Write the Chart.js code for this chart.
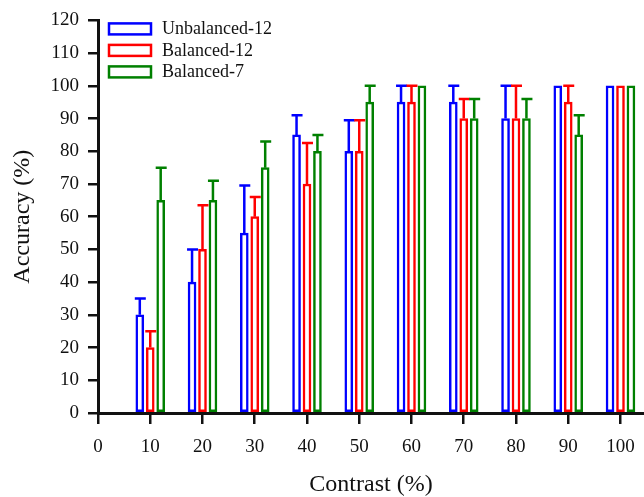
<!DOCTYPE html>
<html>
<head>
<meta charset="utf-8">
<script src="https://cdn.jsdelivr.net/npm/chart.js@4.4.1/dist/chart.umd.min.js"></script>
<style>
  html, body { margin: 0; padding: 0; background: #fff; }
  #wrap { width: 644px; height: 497px; }
</style>
</head>
<body>
<div id="wrap"><canvas id="accChart"></canvas></div>
<script>
// contrast levels (%)
const contrast = [10, 20, 30, 40, 50, 60, 70, 80, 90, 100];
// mean accuracy (%)
const unbalanced12 = [30, 40, 55, 85, 80, 95, 95, 90, 100, 100];
const balanced12   = [20, 50, 60, 70, 80, 95, 90, 90, 95, 100];
const balanced7    = [65, 65, 75, 80, 95, 100, 90, 90, 85, 100];
// upper error (%)
const unbalanced12Err = [5, 10, 14.5, 6, 9.5, 5, 5, 10, 0, 0];
const balanced12Err   = [5, 13.5, 6, 12.5, 9.5, 5, 6, 10, 5, 0];
const balanced7Err    = [10, 6, 8, 5, 5, 0, 6, 6, 6, 0];
const yTicks = [0, 10, 20, 30, 40, 50, 60, 70, 80, 90, 100, 110, 120];

const serif = "'Liberation Serif', 'Times New Roman', serif";
const ink = '#111';

function series(label, values, errs, color, shift) {
  return {
    label: label,
    data: contrast.map((c, i) => ({ x: c + shift, y: values[i], err: errs[i] })),
    borderColor: color,
    backgroundColor: '#fff',
    borderWidth: 2.5,
    borderSkipped: false,
    barThickness: 8,
    grouped: false
  };
}

// upward-only error bars
const errorBars = {
  id: 'errorBars',
  afterDatasetsDraw(chart) {
    const ctx = chart.ctx;
    const y = chart.scales.y;
    chart.data.datasets.forEach((ds, di) => {
      const meta = chart.getDatasetMeta(di);
      meta.data.forEach((bar, i) => {
        const p = ds.data[i];
        if (!p.err) return;
        const top = y.getPixelForValue(p.y + p.err);
        ctx.save();
        ctx.strokeStyle = ds.borderColor;
        ctx.lineWidth = 2.5;
        ctx.beginPath();
        ctx.moveTo(bar.x, bar.y);
        ctx.lineTo(bar.x, top);
        ctx.moveTo(bar.x - 5, top);
        ctx.lineTo(bar.x + 6, top);
        ctx.stroke();
        ctx.restore();
      });
    });
  }
};

// legend drawn in the top-left of the plot
const boxLegend = {
  id: 'boxLegend',
  afterDraw(chart) {
    const ctx = chart.ctx;
    const a = chart.chartArea;
    ctx.save();
    ctx.font = '18px ' + serif;
    ctx.textBaseline = 'middle';
    chart.data.datasets.forEach((ds, i) => {
      const bx = a.left + 11, by = a.top + 3 + i * 21.5;
      ctx.strokeStyle = ds.borderColor;
      ctx.lineWidth = 2.5;
      ctx.strokeRect(bx, by, 42, 11);
      ctx.fillStyle = ink;
      ctx.fillText(ds.label, bx + 53, by + 6);
    });
    ctx.restore();
  }
};

new Chart(document.getElementById('accChart'), {
  type: 'bar',
  data: {
    datasets: [
      series('Unbalanced-12', unbalanced12, unbalanced12Err, '#0000ff', -2),
      series('Balanced-12', balanced12, balanced12Err, '#ff0000', 0),
      series('Balanced-7', balanced7, balanced7Err, '#008000', 2)
    ]
  },
  options: {
    responsive: true,
    maintainAspectRatio: false,
    animation: false,
    layout: { padding: { top: 19, right: 0, left: 0, bottom: 0 } },
    plugins: { legend: { display: false }, tooltip: { enabled: false } },
    scales: {
      x: {
        type: 'linear',
        min: 0,
        max: 104.5,
        offset: false,
        afterFit(s) {
          s.height = 84;
          s.paddingLeft = 0;
          s.paddingRight = 0;
        },
        ticks: {
          stepSize: 10,
          includeBounds: false,
          padding: 12,
          color: ink,
          font: { family: serif, size: 19 }
        },
        grid: { offset: false, drawOnChartArea: false, drawTicks: true, tickLength: 11, lineWidth: 2.5, color: ink },
        border: { display: true, width: 3, color: ink },
        title: {
          display: true,
          text: 'Contrast (%)',
          color: ink,
          font: { family: serif, size: 24 },
          padding: { top: 0, bottom: -2 }
        }
      },
      y: {
        min: 0,
        max: 120,
        afterFit(s) { s.width = 98; },
        afterBuildTicks(s) { s.ticks = yTicks.map(v => ({ value: v })); },
        ticks: {
          padding: 9,
          color: ink,
          font: { family: serif, size: 19 }
        },
        grid: { drawOnChartArea: false, drawTicks: true, tickLength: 10, lineWidth: 2.5, color: ink },
        border: { display: true, width: 3, color: ink },
        title: {
          display: true,
          text: 'Accuracy (%)',
          color: ink,
          font: { family: serif, size: 24 },
          padding: { top: 8, bottom: 0 }
        }
      }
    }
  },
  plugins: [errorBars, boxLegend]
});
</script>
</body>
</html>
